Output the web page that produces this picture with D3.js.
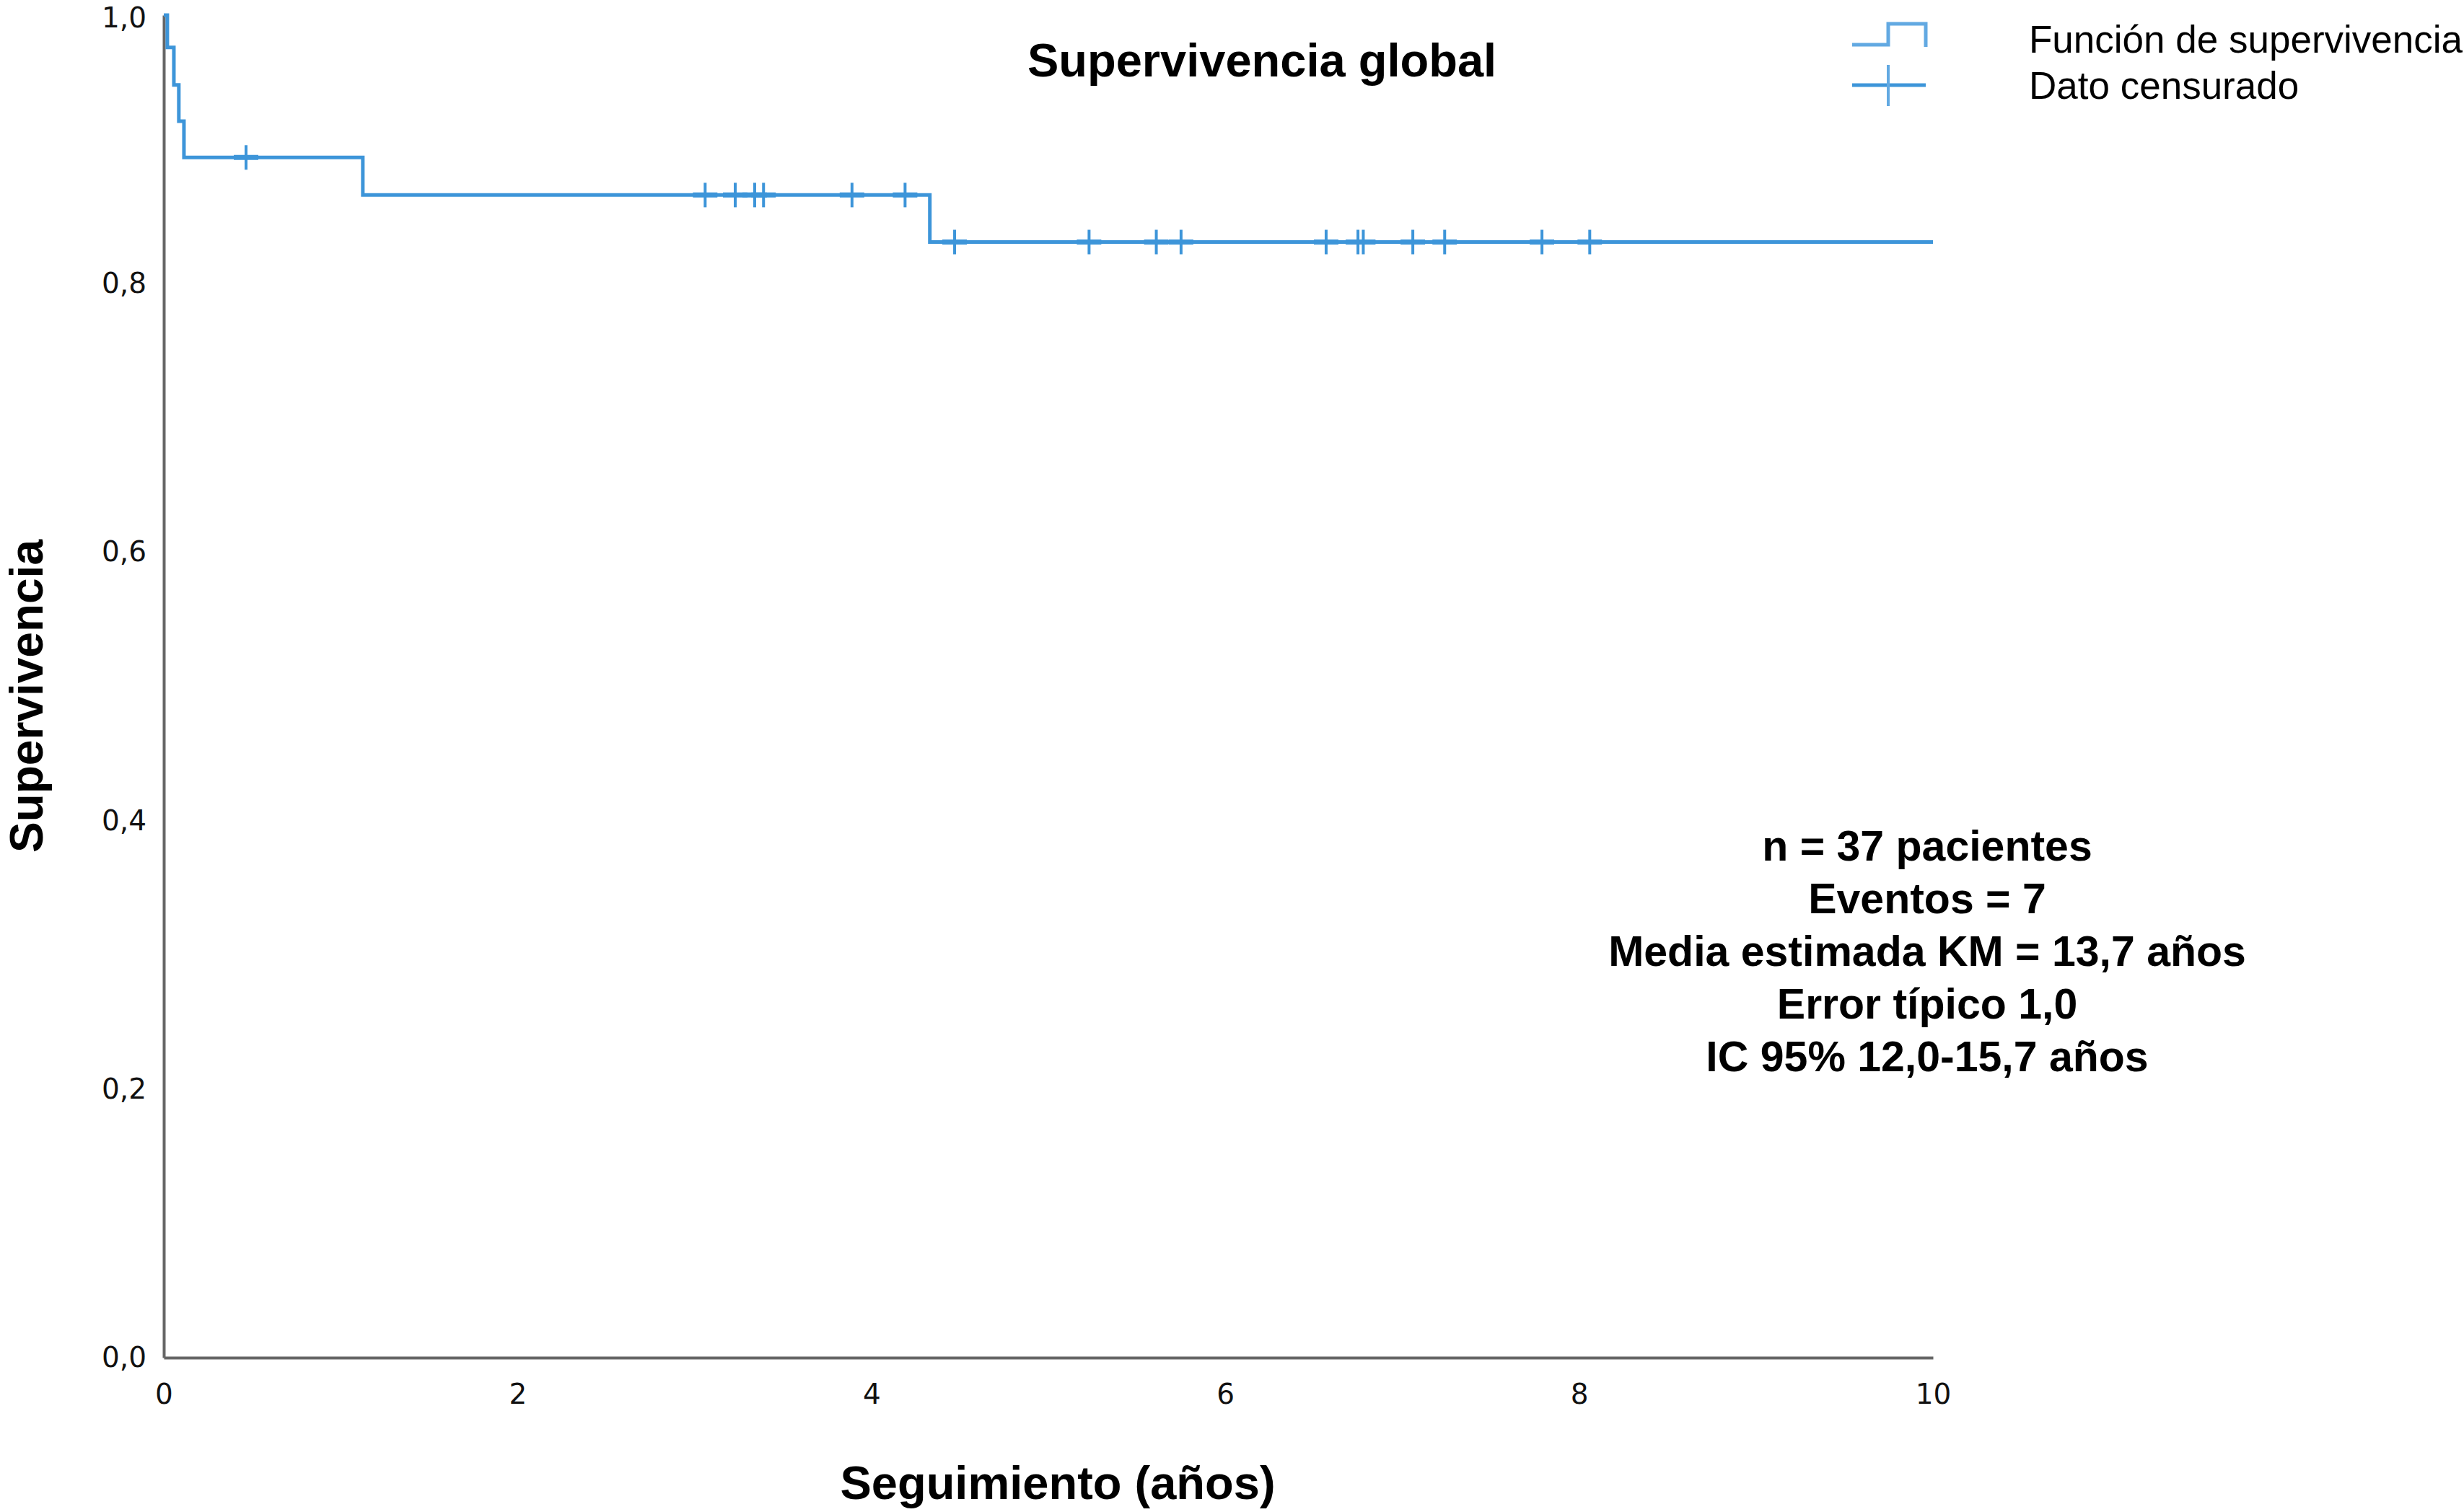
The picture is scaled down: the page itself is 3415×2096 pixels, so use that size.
<!DOCTYPE html>
<html>
<head>
<meta charset="utf-8">
<script src="https://cdn.jsdelivr.net/npm/d3@7"></script>
<style>
  html, body { margin: 0; padding: 0; background: #fff; }
  svg { display: block; }
</style>
</head>
<body>
<div id="chart"></div>
<script>
// Kaplan-Meier curve, values
const stepTimes = [0, 0.02, 0.057, 0.085, 0.114, 1.125, 4.33];
const stepSurvival = [1.0, 0.976, 0.948, 0.921, 0.894, 0.866, 0.831];
const endTime = 10;

const censorTimes = [0.465, 3.06, 3.23, 3.34, 3.39, 3.89, 4.19,
                     4.47, 5.23, 5.61, 5.75, 6.57, 6.75, 6.78, 7.06, 7.24, 7.79, 8.06];

const xTicks = [0, 2, 4, 6, 8, 10];
const yTicks = [0, 0.2, 0.4, 0.6, 0.8, 1.0];

const titleText = 'Supervivencia global';
const xLabel = 'Seguimiento (años)';
const yLabel = 'Supervivencia';
const legendLabels = ['Función de supervivencia', 'Dato censurado'];
const statsLines = ['n = 37 pacientes', 'Eventos = 7', 'Media estimada KM = 13,7 años',
                    'Error típico 1,0', 'IC 95% 12,0-15,7 años'];

const W = 3415, H = 2096;
const margin = {top: 21, right: 736, bottom: 214, left: 227};
const blue = '#3d95d9';
const lightBlue = '#62a9e2';
const sans = '"Liberation Sans", Arial, Helvetica, sans-serif';

const svg = d3.select('#chart').append('svg')
    .attr('width', W)
    .attr('height', H)
    .attr('viewBox', [0, 0, W, H]);

const x = d3.scaleLinear().domain([0, 10]).range([margin.left, W - margin.right]);
const y = d3.scaleLinear().domain([0, 1]).range([H - margin.bottom, margin.top]);

const comma = v => d3.format('.1f')(v).replace('.', ',');

// axes (no tick marks, only the lines and labels)
const xAxis = svg.append('g')
    .attr('transform', `translate(0,${y(0)})`)
    .call(d3.axisBottom(x).tickValues(xTicks).tickSize(0).tickPadding(36).tickFormat(d => d));
xAxis.select('.domain').attr('stroke', '#666').attr('stroke-width', 4);

const yAxis = svg.append('g')
    .attr('transform', `translate(${x(0)},0)`)
    .call(d3.axisLeft(y).tickValues(yTicks).tickSize(0).tickPadding(24).tickFormat(comma));
yAxis.select('.domain').attr('stroke', '#666').attr('stroke-width', 4);

svg.selectAll('.tick text')
    .attr('font-family', '"DejaVu Sans", Verdana, sans-serif')
    .attr('font-size', 39)
    .attr('fill', '#111');

// top label sits right at the edge, nudge it so it stays inside
yAxis.selectAll('.tick text').filter(d => d === 1).attr('dy', '0.42em');

// survival step line
const pts = stepTimes.map((t, i) => [t, stepSurvival[i]]);
pts.push([endTime, stepSurvival[stepSurvival.length - 1]]);

const line = d3.line()
    .x(d => x(d[0]))
    .y(d => y(d[1]))
    .curve(d3.curveStepAfter);

svg.append('path')
    .datum(pts)
    .attr('fill', 'none')
    .attr('stroke', blue)
    .attr('stroke-width', 5)
    .attr('d', line);

// censored marks
const survAt = t => stepSurvival[d3.bisectRight(stepTimes, t) - 1];

const cens = svg.append('g')
    .attr('stroke', blue);
censorTimes.forEach(t => {
    const cx = x(t), cy = y(survAt(t));
    cens.append('line').attr('x1', cx).attr('x2', cx).attr('y1', cy - 17).attr('y2', cy + 17)
        .attr('stroke-width', 4);
    cens.append('line').attr('x1', cx - 17).attr('x2', cx + 17).attr('y1', cy).attr('y2', cy)
        .attr('stroke-width', 7);
});

// title
svg.append('text')
    .attr('x', 1749).attr('y', 106)
    .attr('text-anchor', 'middle')
    .attr('font-family', sans).attr('font-weight', 'bold').attr('font-size', 65)
    .text(titleText);

// axis titles
svg.append('text')
    .attr('x', 1466).attr('y', 2078)
    .attr('text-anchor', 'middle')
    .attr('font-family', sans).attr('font-weight', 'bold').attr('font-size', 65)
    .text(xLabel);

svg.append('text')
    .attr('transform', 'translate(59,965) rotate(-90)')
    .attr('text-anchor', 'middle')
    .attr('font-family', sans).attr('font-weight', 'bold').attr('font-size', 64)
    .text(yLabel);

// legend
const leg = svg.append('g');
leg.append('path')
    .attr('d', 'M2567,62 H2617 V33 H2669 V65')
    .attr('fill', 'none').attr('stroke', lightBlue).attr('stroke-width', 5);
leg.append('line').attr('x1', 2567).attr('x2', 2669).attr('y1', 118).attr('y2', 118)
    .attr('stroke', blue).attr('stroke-width', 5);
leg.append('line').attr('x1', 2617).attr('x2', 2617).attr('y1', 90).attr('y2', 147)
    .attr('stroke', lightBlue).attr('stroke-width', 4);
leg.selectAll('text')
    .data(legendLabels)
    .join('text')
    .attr('x', 2812)
    .attr('y', (d, i) => 73 + i * 64)
    .attr('font-family', sans).attr('font-size', 53)
    .text(d => d);

// summary statistics
svg.append('g').selectAll('text')
    .data(statsLines)
    .join('text')
    .attr('x', 2671)
    .attr('y', (d, i) => 1193 + i * 73)
    .attr('text-anchor', 'middle')
    .attr('font-family', sans).attr('font-weight', 'bold').attr('font-size', 59)
    .text(d => d);
</script>
</body>
</html>
